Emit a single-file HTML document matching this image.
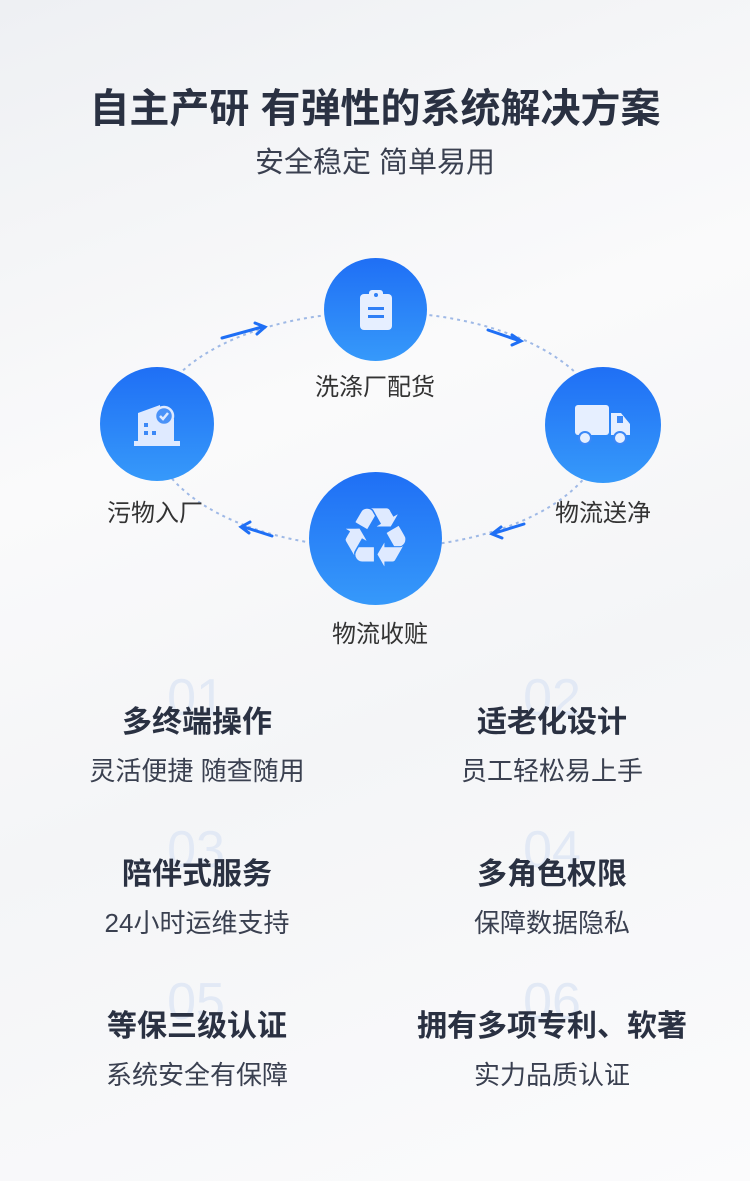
<!DOCTYPE html><html><head><meta charset="utf-8"><style>
*{margin:0;padding:0}
body{width:750px;height:1181px;overflow:hidden;position:relative;background:linear-gradient(160deg,#eef0f3 0%,#fafafb 35%,#f4f5f7 60%,#fbfbfc 100%);font-family:"Liberation Sans","Noto Sans CJK SC",sans-serif;color:#2a3142}
.t{position:absolute;white-space:nowrap;transform:translateX(-50%)}
.c{position:absolute;border-radius:50%;background:linear-gradient(180deg,#1f6ff5,#3699fa);display:flex;align-items:center;justify-content:center}
.n{position:absolute;font-size:52px;color:#e2e9f5;transform:translateX(-50%);font-family:"Liberation Sans",sans-serif}
.h{font-size:30px;font-weight:bold;color:#2a3142}
.s{font-size:26px;color:#3a4050}
.l{font-size:24px;color:#333}
</style></head><body>
<div class="t" style="left:375px;top:76px;font-size:40px;font-weight:bold;color:#2a3142">自主产研 有弹性的系统解决方案</div>
<div class="t" style="left:375px;top:139px;font-size:29px;color:#3a4050">安全稳定 简单易用</div>
<svg style="position:absolute;left:0;top:0" width="750" height="1181">
<ellipse cx="378" cy="430" rx="226" ry="118" fill="none" stroke="#9fb9e6" stroke-width="2" stroke-dasharray="3 4"/>
<g stroke="#1f6ff5" stroke-width="3" fill="none" stroke-linecap="round">
<path d="M222 338 L262 327 M255 323 L265 327 L257 334"/>
<path d="M488 330 L520 341 M512 335 L521 341 L512 345"/>
<path d="M524 524 L495 533 M501 527 L492 534 L502 538"/>
<path d="M272 536 L244 527 M250 522 L241 527 L249 533"/>
</g></svg>
<div class="c" style="left:324px;top:258px;width:103px;height:103px">
<svg width="40" height="44" viewBox="0 0 40 44"><rect x="4" y="6" width="32" height="36" rx="4" fill="#e6efff"/><rect x="13" y="2" width="14" height="8" rx="3" fill="#e6efff"/><circle cx="20" cy="7" r="2" fill="#2f7ff6"/><rect x="12" y="19" width="16" height="3" fill="#2f7ff6"/><rect x="12" y="27" width="16" height="3" fill="#2f7ff6"/></svg></div>
<div class="c" style="left:100px;top:367px;width:114px;height:114px">
<svg width="46" height="46" viewBox="0 0 46 46"><path d="M4 44V12l22-8v40z" fill="#dfeaff"/><rect x="26" y="18" width="14" height="26" fill="#dfeaff"/><rect x="0" y="40" width="46" height="5" fill="#dfeaff"/><circle cx="30" cy="15" r="9" fill="#4a92f8" stroke="#dfeaff" stroke-width="2.5"/><path d="M26 15l3 3 5-6" stroke="#dfeaff" stroke-width="2.5" fill="none"/><g fill="#3b88f7"><rect x="10" y="22" width="4" height="4"/><rect x="10" y="30" width="4" height="4"/><rect x="18" y="30" width="4" height="4"/></g></svg></div>
<div class="c" style="left:545px;top:367px;width:116px;height:116px">
<svg width="56" height="40" viewBox="0 0 56 40"><rect x="0" y="0" width="34" height="30" rx="3" fill="#e6efff"/><path d="M36 8h10l9 11v11H36z" fill="#e6efff"/><rect x="42" y="11" width="6" height="7" fill="#3b88f7"/><circle cx="10" cy="33" r="6" fill="#e6efff" stroke="#3b88f7" stroke-width="2"/><circle cx="45" cy="33" r="6" fill="#e6efff" stroke="#3b88f7" stroke-width="2"/></svg></div>
<div class="c" style="left:309px;top:472px;width:133px;height:133px">
<span style="font-size:82px;line-height:1;color:#dfeaff;font-family:'DejaVu Sans',sans-serif">♻</span></div>
<div class="t l" style="left:375px;top:367px">洗涤厂配货</div>
<div class="t l" style="left:155px;top:493px">污物入厂</div>
<div class="t l" style="left:603px;top:493px">物流送净</div>
<div class="t l" style="left:380px;top:614px">物流收赃</div>
<div class="n" style="left:196px;top:668px">01</div>
<div class="n" style="left:552px;top:668px">02</div>
<div class="n" style="left:196px;top:820px">03</div>
<div class="n" style="left:552px;top:820px">04</div>
<div class="n" style="left:196px;top:972px">05</div>
<div class="n" style="left:552px;top:972px">06</div>
<div class="t h" style="left:197px;top:697px">多终端操作</div>
<div class="t s" style="left:197px;top:751px">灵活便捷 随查随用</div>
<div class="t h" style="left:552px;top:697px">适老化设计</div>
<div class="t s" style="left:552px;top:751px">员工轻松易上手</div>
<div class="t h" style="left:197px;top:849px">陪伴式服务</div>
<div class="t s" style="left:197px;top:903px">24小时运维支持</div>
<div class="t h" style="left:552px;top:849px">多角色权限</div>
<div class="t s" style="left:552px;top:903px">保障数据隐私</div>
<div class="t h" style="left:197px;top:1001px">等保三级认证</div>
<div class="t s" style="left:197px;top:1055px">系统安全有保障</div>
<div class="t h" style="left:552px;top:1001px">拥有多项专利、软著</div>
<div class="t s" style="left:552px;top:1055px">实力品质认证</div>
</body></html>
